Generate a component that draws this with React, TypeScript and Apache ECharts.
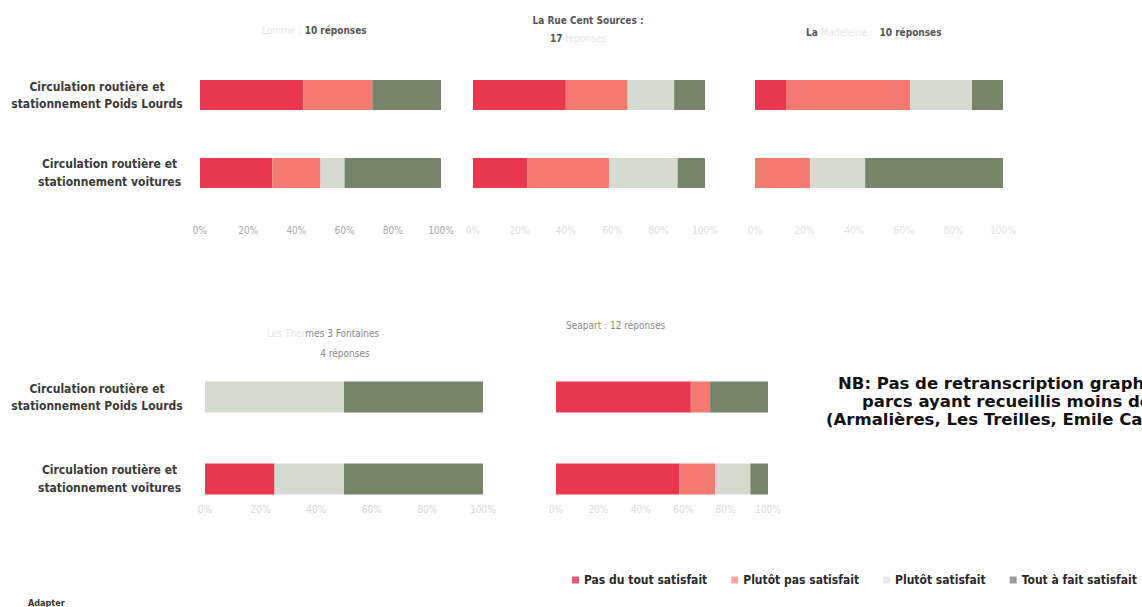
import React, { useEffect, useRef } from "react";
import * as echarts from "echarts";

// Question rows (shared by every park)
const categories = [
  "Circulation routière et\nstationnement Poids Lourds",
  "Circulation routière et\nstationnement voitures",
];

// Answer levels, in stacking order
const levels = [
  "Pas du tout satisfait",
  "Plutôt pas satisfait",
  "Plutôt satisfait",
  "Tout à fait satisfait",
];
const levelColors = ["#e8384f", "#f47b72", "#d6dbd0", "#76856a"];
const legendMarkerColors = ["#e2587a", "#f2a3ab", "#e6e8e4", "#9c9c9c"];

// Percentage axis
const percentTicks = [0, 20, 40, 60, 80, 100];

// Share of answers (%) per park: [Poids Lourds row], [voitures row]
const p1PoidsLourds = [42.9, 28.6, 0, 28.6];
const p1Voitures = [30, 20, 10, 40];
const p2PoidsLourds = [40, 26.7, 20, 13.3];
const p2Voitures = [23.5, 35.3, 29.4, 11.8];
const p3PoidsLourds = [12.5, 50, 25, 12.5];
const p3Voitures = [0, 22.2, 22.2, 55.6];
const p4PoidsLourds = [0, 0, 50, 50];
const p4Voitures = [25, 0, 25, 50];
const p5PoidsLourds = [63.6, 9.1, 0, 27.3];
const p5Voitures = [58.3, 16.7, 16.7, 8.3];

const panelValues = [
  [p1PoidsLourds, p1Voitures],
  [p2PoidsLourds, p2Voitures],
  [p3PoidsLourds, p3Voitures],
  [p4PoidsLourds, p4Voitures],
  [p5PoidsLourds, p5Voitures],
];

const FONT = "'DejaVu Sans Condensed', 'DejaVu Sans', sans-serif";

const grids = [
  { left: 200, top: 56, width: 241, height: 156 },
  { left: 473, top: 56, width: 232, height: 156 },
  { left: 755, top: 56, width: 248, height: 156 },
  { left: 205, top: 356, width: 278, height: 164 },
  { left: 556, top: 356, width: 212, height: 164 },
];
const barWidths = [30, 30, 30, 31, 31];
const tickColors = ["#a6a6a6", "#dcdcdc", "#e2e2e2", "#d6d6d6", "#dadada"];
const tickMargins = [13, 13, 13, -16, -16];
const showRowLabels = [true, false, false, true, false];
const rowLabelMargins = [18, 0, 0, 23, 0];

function buildOption() {
  const xAxis = grids.map((_, i) => ({
    type: "value",
    gridIndex: i,
    min: percentTicks[0],
    max: percentTicks[percentTicks.length - 1],
    interval: percentTicks[1] - percentTicks[0],
    axisLine: { show: false },
    axisTick: { show: false },
    splitLine: { show: false },
    axisLabel: {
      formatter: "{value}%",
      color: tickColors[i],
      fontFamily: FONT,
      fontSize: 10,
      margin: tickMargins[i],
    },
  }));

  const rowStyle = {
    align: "center",
    fontFamily: FONT,
    fontSize: 12,
    fontWeight: "bold",
    color: "#3a3a3a",
  };

  const yAxis = grids.map((_, i) => ({
    type: "category",
    gridIndex: i,
    inverse: true,
    data: categories,
    axisLine: { show: false },
    axisTick: { show: false },
    axisLabel: {
      show: showRowLabels[i],
      margin: rowLabelMargins[i],
      formatter: (v: string, idx: number) =>
        v
          .split("\n")
          .map((l) => `{r${idx}|${l}}`)
          .join("\n"),
      rich: {
        r0: { ...rowStyle, width: 170, lineHeight: 17 },
        r1: { ...rowStyle, width: 145, lineHeight: 18 },
      },
    },
  }));

  const series: any[] = [];
  panelValues.forEach(([pl, vl], i) => {
    levels.forEach((name, j) => {
      series.push({
        type: "bar",
        name,
        stack: "park" + i,
        xAxisIndex: i,
        yAxisIndex: i,
        barWidth: barWidths[i],
        itemStyle: { color: levelColors[j] },
        emphasis: { disabled: true },
        data: [pl[j], vl[j]],
      });
    });
  });

  const faint = { fill: "#e6e6e6", fontFamily: FONT, fontSize: 10 };
  const dark = { fill: "#555", fontFamily: FONT, fontSize: 10, fontWeight: "bold" };
  const mid = { fill: "#888", fontFamily: FONT, fontSize: 10 };

  const titleText = (x: number, y: number, text: string, align = "left") => ({
    type: "text",
    x,
    y,
    silent: true,
    style: {
      text,
      textAlign: align,
      textVerticalAlign: "middle",
      rich: { f: faint, d: dark, m: mid },
    },
  });

  const nbFont = "bold 16.5px 'DejaVu Sans', sans-serif";
  const nbLine = (x: number, y: number, text: string) => ({
    type: "text",
    x,
    y,
    silent: true,
    style: { text, font: nbFont, fill: "#111", textVerticalAlign: "middle" },
  });

  const graphic = [
    titleText(262, 30, "{f|Lomme :} {d|10 réponses}"),
    titleText(588, 20, "{d|La Rue Cent Sources :}", "center"),
    titleText(550, 38, "{d|17}{f| réponses}"),
    titleText(806, 32, "{d|La}{f| Madeleine :}  {d|10 réponses}"),
    titleText(267, 333, "{f|Les Ther}{m|mes 3 Fontaines}"),
    titleText(345, 353, "{m|4 réponses}", "center"),
    titleText(566, 325, "{m|Seapart : 12 réponses}"),
    nbLine(838, 383, "NB: Pas de retranscription graphique pour les"),
    nbLine(862, 401, "parcs ayant recueillis moins de 5 réponses"),
    nbLine(826, 419, "(Armalières, Les Treilles, Emile Caron)"),
    {
      type: "text",
      x: 28,
      y: 603,
      silent: true,
      style: {
        text: "Adapter",
        font: `bold 9px ${FONT}`,
        fill: "#333",
        textVerticalAlign: "middle",
      },
    },
  ];

  return {
    animation: false,
    backgroundColor: "#ffffff",
    grid: grids.map((g) => ({ ...g, containLabel: false })),
    xAxis,
    yAxis,
    series,
    legend: {
      data: levels.map((name, j) => ({
        name,
        itemStyle: { color: legendMarkerColors[j] },
      })),
      left: 567,
      top: 569,
      icon: "rect",
      itemWidth: 7,
      itemHeight: 7,
      itemGap: 24,
      selectedMode: false,
      textStyle: {
        fontFamily: FONT,
        fontSize: 12,
        fontWeight: "bold",
        color: "#2a2a2a",
      },
    },
    graphic,
  };
}

export default function App() {
  const ref = useRef<HTMLDivElement>(null);
  useEffect(() => {
    const chart = echarts.init(ref.current!, null, { renderer: "svg" });
    chart.setOption(buildOption() as any);
    return () => chart.dispose();
  }, []);
  return (
    <div
      ref={ref}
      style={{
        position: "fixed",
        left: 0,
        top: 0,
        width: 1142,
        height: 607,
        background: "#fff",
        overflow: "hidden",
      }}
    />
  );
}
